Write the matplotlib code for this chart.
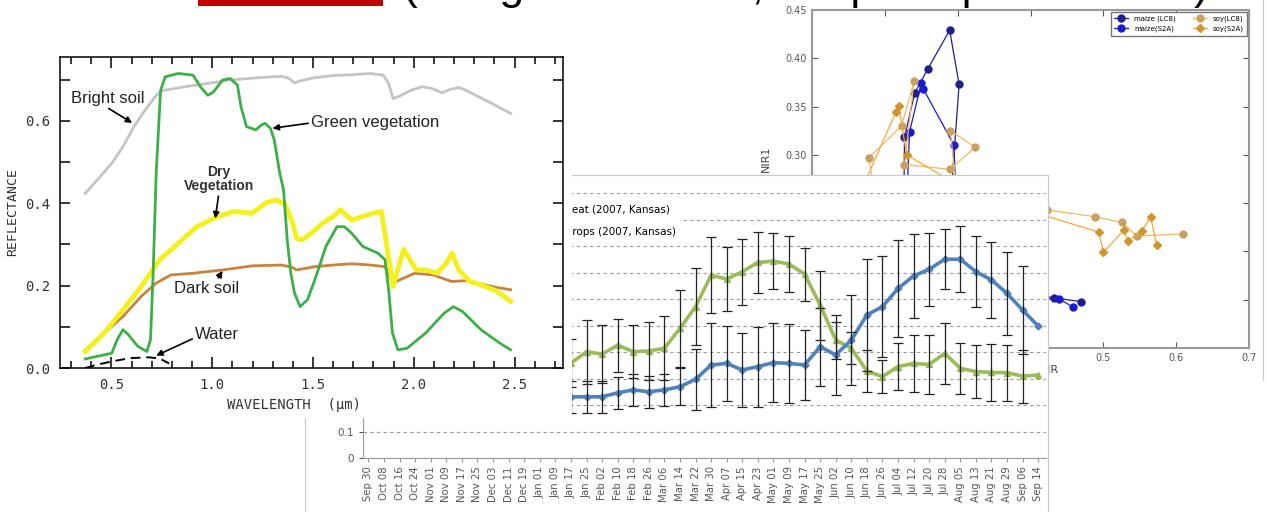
import numpy as np
import matplotlib.pyplot as plt
from matplotlib.patches import Rectangle
from matplotlib.ticker import MultipleLocator, FormatStrFormatter

# --- spectral reflectance curves (wavelength in um, reflectance) ---
bright_wl = [0.370, 0.429, 0.502, 0.557, 0.612, 0.667, 0.722, 0.758, 0.868, 0.978, 1.088, 1.234,
             1.344, 1.381, 1.408, 1.436, 1.509, 1.601, 1.692, 1.784, 1.848, 1.875, 1.897, 1.930,
             1.985, 2.040, 2.095, 2.141, 2.178, 2.223, 2.260, 2.315, 2.388, 2.480]
bright_r = [0.424, 0.456, 0.497, 0.537, 0.586, 0.626, 0.662, 0.674, 0.683, 0.691, 0.699, 0.705,
            0.708, 0.703, 0.692, 0.697, 0.705, 0.710, 0.712, 0.715, 0.711, 0.691, 0.654, 0.660,
            0.674, 0.683, 0.678, 0.668, 0.676, 0.681, 0.674, 0.660, 0.642, 0.618]

green_wl = [0.370, 0.465, 0.502, 0.529, 0.557, 0.584, 0.630, 0.676, 0.694, 0.707, 0.722, 0.744,
            0.767, 0.832, 0.905, 0.941, 0.978, 1.006, 1.051, 1.088, 1.125, 1.143, 1.170, 1.216,
            1.244, 1.262, 1.289, 1.308, 1.335, 1.354, 1.372, 1.390, 1.408, 1.436, 1.473, 1.509,
            1.564, 1.619, 1.656, 1.692, 1.747, 1.821, 1.857, 1.875, 1.894, 1.921, 1.967, 2.059,
            2.150, 2.196, 2.242, 2.333, 2.425, 2.480]
green_r = [0.022, 0.032, 0.036, 0.069, 0.093, 0.081, 0.053, 0.040, 0.069, 0.230, 0.473, 0.674,
           0.707, 0.715, 0.711, 0.683, 0.662, 0.670, 0.699, 0.703, 0.687, 0.634, 0.586, 0.578,
           0.590, 0.594, 0.582, 0.553, 0.473, 0.432, 0.311, 0.230, 0.182, 0.149, 0.166, 0.214,
           0.295, 0.343, 0.343, 0.327, 0.295, 0.279, 0.263, 0.190, 0.085, 0.044, 0.048, 0.085,
           0.133, 0.149, 0.137, 0.093, 0.061, 0.044]

dry_wl = [0.370, 0.465, 0.557, 0.648, 0.740, 0.832, 0.923, 1.015, 1.106, 1.198, 1.271, 1.317,
          1.363, 1.399, 1.418, 1.445, 1.491, 1.546, 1.601, 1.637, 1.692, 1.747, 1.802, 1.839,
          1.866, 1.897, 1.949, 2.013, 2.059, 2.114, 2.159, 2.190, 2.223, 2.278, 2.333, 2.406, 2.480]
dry_r = [0.040, 0.085, 0.141, 0.198, 0.263, 0.303, 0.343, 0.365, 0.380, 0.376, 0.402, 0.408,
         0.396, 0.352, 0.315, 0.311, 0.327, 0.351, 0.368, 0.384, 0.359, 0.368, 0.376, 0.380,
         0.295, 0.198, 0.288, 0.238, 0.238, 0.230, 0.253, 0.279, 0.238, 0.210, 0.202, 0.188, 0.162]

dark_wl = [0.370, 0.465, 0.557, 0.648, 0.722, 0.795, 0.905, 1.051, 1.198, 1.344, 1.399, 1.418,
           1.509, 1.601, 1.692, 1.784, 1.857, 1.897, 1.930, 2.004, 2.095, 2.187, 2.260, 2.333,
           2.406, 2.480]
dark_r = [0.044, 0.085, 0.125, 0.174, 0.206, 0.226, 0.230, 0.238, 0.248, 0.250, 0.244, 0.238,
          0.246, 0.250, 0.253, 0.250, 0.246, 0.206, 0.214, 0.230, 0.226, 0.210, 0.212, 0.204,
          0.196, 0.190]

water_wl = [0.370, 0.429, 0.502, 0.593, 0.685, 0.740, 0.786]
water_r = [0.000, 0.008, 0.016, 0.024, 0.026, 0.023, 0.011]

# --- 8-day NDVI profiles, Kansas 2007 ---
dates = ["Sep 30", "Oct 08", "Oct 16", "Oct 24", "Nov 01", "Nov 09", "Nov 17", "Nov 25",
         "Dec 03", "Dec 11", "Dec 19", "Jan 01", "Jan 09", "Jan 17", "Jan 25", "Feb 02",
         "Feb 10", "Feb 18", "Feb 26", "Mar 06", "Mar 14", "Mar 22", "Mar 30", "Apr 07",
         "Apr 15", "Apr 23", "May 01", "May 09", "May 17", "May 25", "Jun 02", "Jun 10",
         "Jun 18", "Jun 26", "Jul 04", "Jul 12", "Jul 20", "Jul 28", "Aug 05", "Aug 13",
         "Aug 21", "Aug 29", "Sep 06", "Sep 14"]
wheat = [0.30, 0.33, 0.36, 0.38, 0.40, 0.40, 0.39, 0.38, 0.37, 0.36, 0.36, 0.35, 0.35, 0.358,
         0.401, 0.392, 0.426, 0.401, 0.404, 0.414, 0.489, 0.571, 0.690, 0.675, 0.703, 0.738,
         0.743, 0.732, 0.694, 0.577, 0.445, 0.414, 0.328, 0.307, 0.345, 0.357, 0.353, 0.395,
         0.338, 0.326, 0.323, 0.322, 0.309, 0.313]
wheat_err = [0.10, 0.10, 0.11, 0.11, 0.12, 0.12, 0.12, 0.11, 0.11, 0.11, 0.10, 0.10, 0.10, 0.09,
             0.12, 0.11, 0.10, 0.10, 0.11, 0.12, 0.145, 0.145, 0.144, 0.12, 0.125, 0.115,
             0.105, 0.105, 0.10, 0.13, 0.07, 0.06, 0.08, 0.063, 0.09, 0.107, 0.11, 0.115,
             0.097, 0.10, 0.107, 0.106, 0.10, 0.0]
summer = [0.26, 0.25, 0.24, 0.24, 0.23, 0.23, 0.23, 0.22, 0.22, 0.22, 0.22, 0.23, 0.23, 0.231,
          0.231, 0.231, 0.246, 0.257, 0.250, 0.257, 0.269, 0.297, 0.351, 0.357, 0.332, 0.345,
          0.360, 0.357, 0.351, 0.420, 0.389, 0.445, 0.540, 0.571, 0.640, 0.687, 0.712, 0.750,
          0.750, 0.703, 0.672, 0.621, 0.558, 0.498]
summer_err = [0.06, 0.06, 0.06, 0.06, 0.06, 0.06, 0.06, 0.06, 0.06, 0.06, 0.06, 0.06, 0.06, 0.06,
              0.06, 0.06, 0.06, 0.06, 0.06, 0.06, 0.07, 0.115, 0.158, 0.142, 0.141, 0.151,
              0.150, 0.148, 0.132, 0.147, 0.15, 0.17, 0.21, 0.19, 0.184, 0.16, 0.137, 0.113,
              0.125, 0.135, 0.144, 0.157, 0.167, 0.0]

# --- NIR1 vs SWIR feature space trajectories ---
maize_lc8_x = [0.225, 0.226, 0.227, 0.241, 0.259, 0.289, 0.302, 0.292, 0.290, 0.360, 0.432, 0.469]
maize_lc8_y = [0.160, 0.240, 0.318, 0.364, 0.389, 0.429, 0.373, 0.270, 0.190, 0.160, 0.152, 0.148]
maize_s2a_x = [0.220, 0.230, 0.234, 0.250, 0.253, 0.295, 0.300, 0.380, 0.439, 0.459]
maize_s2a_y = [0.170, 0.250, 0.324, 0.374, 0.368, 0.310, 0.200, 0.150, 0.151, 0.142]
soy_lc8_x = [0.190, 0.178, 0.223, 0.240, 0.227, 0.290, 0.324, 0.290, 0.300, 0.422, 0.488, 0.526,
             0.546, 0.609]
soy_lc8_y = [0.240, 0.297, 0.330, 0.376, 0.290, 0.285, 0.308, 0.325, 0.250, 0.243, 0.236, 0.230,
             0.216, 0.218]
soy_s2a_x = [0.160, 0.215, 0.219, 0.230, 0.320, 0.494, 0.500, 0.528, 0.534, 0.553, 0.565, 0.573]
soy_s2a_y = [0.250, 0.344, 0.351, 0.300, 0.260, 0.220, 0.199, 0.222, 0.211, 0.221, 0.236, 0.207]

W, H = 1267, 512


def box(x0, y0, x1, y1):
    # pixel box (top-left origin) -> figure rect
    return [x0 / W, 1 - y1 / H, (x1 - x0) / W, (y1 - y0) / H]


def panel(fig, rect, z, edges=()):
    p = fig.add_axes(rect, zorder=z)
    p.set_xticks([])
    p.set_yticks([])
    p.set_facecolor("white")
    for side, s in p.spines.items():
        s.set_visible(side in edges)
        s.set_color("#c8c8c8")
    return p


fig = plt.figure(figsize=(12.67, 5.12), dpi=100)

# ---------------- scatter (back) ----------------
panel(fig, box(760, 0, 1263, 380), 1, edges=("right",))
sc = fig.add_axes(box(812, 10, 1249, 348), zorder=2)
sc.plot(maize_lc8_x, maize_lc8_y, "-o", color="#1f1f8a", ms=5, lw=0.9, label="maize (LC8)")
sc.plot(maize_s2a_x, maize_s2a_y, "-o", color="#1a1ad0", ms=5, lw=0.9, label="maize(S2A)")
sc.plot(soy_lc8_x, soy_lc8_y, "-o", color="#f0b860", mfc="#c9a060", mec="#c9a060", ms=5, lw=0.9,
        label="soy(LC8)")
sc.plot(soy_s2a_x, soy_s2a_y, "-D", color="#f2a93b", mfc="#d0952e", mec="#d0952e", ms=4.5, lw=0.9,
        label="soy(S2A)")
sc.set_xlim(0.1, 0.7)
sc.set_ylim(0.1, 0.45)
sc.xaxis.set_major_locator(MultipleLocator(0.1))
sc.yaxis.set_major_locator(MultipleLocator(0.05))
sc.yaxis.set_major_formatter(FormatStrFormatter("%.2f"))
sc.tick_params(direction="in", top=True, right=True, labelsize=7, colors="#555", length=4)
for s in sc.spines.values():
    s.set_color("#999")
    s.set_linewidth(1.5)
sc.set_ylabel("NIR1", fontsize=8, color="#444")
sc.yaxis.set_label_coords(-0.095, 0.56)
sc.set_xlabel("SWIR", fontsize=8, color="#444")
sc.xaxis.set_label_coords(0.53, -0.05)
sc.legend(loc="upper right", ncol=2, fontsize=5, numpoints=1, borderpad=0.5,
          handlelength=2, columnspacing=2.5, fancybox=False, edgecolor="#777",
          framealpha=1, borderaxespad=0.3)

# ---------------- NDVI time series (middle) ----------------
panel(fig, box(305, 175, 1048, 513), 3, edges=("left", "top", "right"))
ts = fig.add_axes(box(363, 193, 1046, 458), zorder=4)
x = np.arange(len(dates))
ts.plot(x, wheat, "-^", color="#9bbb59", lw=2.6, ms=4, label="Winter wheat (2007, Kansas)")
ts.plot(x, summer, "-D", color="#4f81bd", lw=2.6, ms=3.5, label="Summer crops (2007, Kansas)")
ts.errorbar(x[:-1], wheat[:-1], yerr=wheat_err[:-1], fmt="none", ecolor="#222", elinewidth=0.9,
            capsize=3.5, capthick=0.9, zorder=3)
ts.errorbar(x[:-1], summer[:-1], yerr=summer_err[:-1], fmt="none", ecolor="#222",
            elinewidth=0.9, capsize=3.5, capthick=0.9, zorder=3)
ts.set_xlim(-0.35, 43.5)
ts.set_ylim(0, 1.0)
ts.set_yticks(np.arange(0, 1.01, 0.1))
ts.set_yticklabels(["0"] + [f"{v:.1f}" for v in np.arange(0.1, 1.01, 0.1)])
ts.set_xticks(x)
ts.set_xticklabels(dates, rotation=90, fontsize=7.3, color="#555")
ts.tick_params(axis="y", labelsize=7.5, colors="#555", length=3)
ts.tick_params(axis="x", length=3, colors="#999", labelcolor="#555", pad=3)
ts.grid(axis="y", color="#999", lw=0.8, ls=(0, (3, 3)))
ts.set_axisbelow(True)
for side in ("top", "right"):
    ts.spines[side].set_visible(False)
for side in ("left", "bottom"):
    ts.spines[side].set_color("#999")
ts.legend(loc="upper left", bbox_to_anchor=(0.179, 0.974), fontsize=7.5, labelspacing=1.2,
          frameon=True, facecolor="white", edgecolor="none", framealpha=1, fancybox=False,
          borderaxespad=0)

# ---------------- spectral reflectance (front) ----------------
panel(fig, box(0, 40, 572, 418), 5)
sp = fig.add_axes(box(60, 57, 563, 368), zorder=6)
sp.plot(bright_wl, bright_r, color="#c4c4c4", lw=2)
sp.plot(dark_wl, dark_r, color="#c58440", lw=2)
sp.plot(dry_wl, dry_r, color="#f4f01e", lw=3.5)
sp.plot(green_wl, green_r, color="#3daf48", lw=2)
sp.plot(water_wl, water_r, color="black", lw=1.4, ls=(0, (5, 3)))
sp.set_xlim(0.245, 2.74)
sp.set_ylim(0, 0.755)
sp.xaxis.set_major_locator(MultipleLocator(0.5))
sp.xaxis.set_minor_locator(MultipleLocator(0.1))
sp.yaxis.set_major_locator(MultipleLocator(0.2))
sp.yaxis.set_minor_locator(MultipleLocator(0.1))
sp.xaxis.set_major_formatter(FormatStrFormatter("%.1f"))
sp.yaxis.set_major_formatter(FormatStrFormatter("%.1f"))
sp.tick_params(which="both", direction="in", top=True, right=True, width=1.1)
sp.tick_params(axis="x", which="major", length=8)
sp.tick_params(axis="x", which="minor", length=5)
sp.tick_params(axis="y", which="both", length=7)
sp.tick_params(labelsize=10, labelcolor="#333", pad=7)
for t in sp.get_xticklabels() + sp.get_yticklabels():
    t.set_family("DejaVu Sans Mono")
for s in sp.spines.values():
    s.set_linewidth(1.1)
sp.set_xlabel("WAVELENGTH  (\u00b5m)", family="DejaVu Sans Mono", fontsize=10, color="#333")
sp.xaxis.set_label_coords(0.465, -0.095)
sp.set_ylabel("REFLECTANCE", family="DejaVu Sans Mono", fontsize=9.5, color="#333")
sp.yaxis.set_label_coords(-0.082, 0.5)

arrow = dict(arrowstyle="-|>", color="black", lw=1.2, mutation_scale=9, shrinkA=0, shrinkB=0)
lab = dict(family="Liberation Sans", fontsize=12, color="#222")
sp.annotate("Bright soil", xy=(0.603, 0.595), xytext=(0.30, 0.655), ha="left", va="center",
            arrowprops=dict(arrow, relpos=(0.45, 0.0)), **lab)
sp.annotate("Green vegetation", xy=(1.299, 0.582), xytext=(1.49, 0.595), ha="left",
            va="center", arrowprops=dict(arrow, relpos=(0.0, 0.5)), **lab)
sp.annotate("Dry\nVegetation", xy=(1.015, 0.363), xytext=(1.033, 0.458), ha="center",
            va="center", family="Liberation Sans", fontsize=10, fontweight="bold", color="#333",
            linespacing=1.0, arrowprops=dict(arrow, relpos=(0.5, 0.0)))
sp.annotate("Dark soil", xy=(1.051, 0.236), xytext=(0.973, 0.194), ha="center", va="center",
            arrowprops=dict(arrow, relpos=(0.65, 1.0)), **lab)
sp.annotate("Water", xy=(0.722, 0.030), xytext=(1.024, 0.081), ha="center", va="center",
            arrowprops=dict(arrow, relpos=(0.0, 0.3)), **lab)

# ---------------- slide title, cut at the top edge ----------------
fig.patches.append(Rectangle((198 / W, 1 - 6 / H), 185 / W, 6 / H, transform=fig.transFigure,
                             facecolor="#c00000", edgecolor="none", zorder=10))
fig.text(403 / W, 1 + 1 / H, "(using time series, temporal profile chart)", fontsize=32,
         family="Liberation Sans", va="baseline", ha="left", color="black", zorder=10)

fig.savefig("out.png", dpi=100)
